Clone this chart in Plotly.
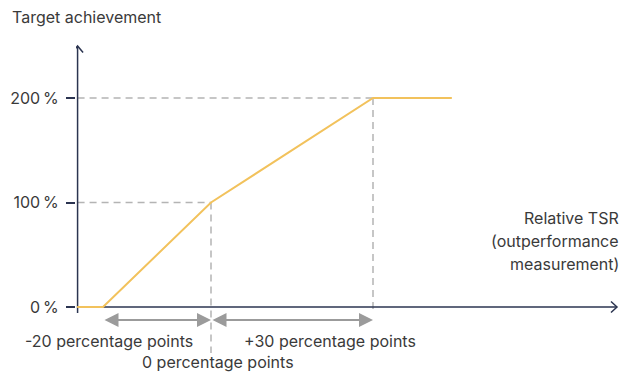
import plotly.graph_objects as go

# ---- data ----
curve_x = [-24.8, -20, 0, 30, 44.6]          # relative TSR (percentage points)
curve_y = [0, 0, 100, 200, 200]              # target achievement (%)
y_ticks = [0, 100, 200]
y_tick_labels = ["0\u2009%", "100\u2009%", "200\u2009%"]
range_labels = ["-20 percentage points", "+30 percentage points", "0 percentage points"]

# ---- geometry helpers (pixel scale of the reference) ----
W, H = 623, 375
ML, MT = 76, 40
X0_PX, PX_X = 211, 5.4
Y0_PX, PX_Y = 307, 1.045
xr = [(ML - X0_PX) / PX_X, (W - X0_PX) / PX_X]
yr = [(Y0_PX - H) / PX_Y, (Y0_PX - MT) / PX_Y]
def dx(px): return px / PX_X
def dy(px): return px / PX_Y
def pxp(px): return (px - ML) / (W - ML)
def pyp(py): return (H - py) / (H - MT)

AX = "#2b3450"
GRID = "#b4b4b4"
ARR = "#9b9b9b"
TXT = "#3a3a3a"
FONT = "Inter"
FS = 16

x_axis_pos = curve_x[0] + dx(0.5)
x_end = (617 - X0_PX) / PX_X
y_top = (Y0_PX - 46) / PX_Y

fig = go.Figure()
fig.add_trace(go.Scatter(x=curve_x, y=curve_y, mode="lines",
                         line=dict(color="#f2c25c", width=2), hoverinfo="skip",
                         showlegend=False))

shapes = []
dash = "7px,5px"
# guide lines
shapes.append(dict(type="line", x0=x_axis_pos, x1=curve_x[3], y0=curve_y[3], y1=curve_y[3],
                   line=dict(color=GRID, width=1.5, dash=dash), layer="below"))
shapes.append(dict(type="line", x0=x_axis_pos, x1=curve_x[2], y0=curve_y[2], y1=curve_y[2],
                   line=dict(color=GRID, width=1.5, dash=dash), layer="below"))
shapes.append(dict(type="line", x0=curve_x[2], x1=curve_x[2], y0=curve_y[2], y1=-dy(46),
                   line=dict(color=GRID, width=1.5, dash=dash), layer="below"))
shapes.append(dict(type="line", x0=curve_x[3], x1=curve_x[3], y0=curve_y[3], y1=-dy(6),
                   line=dict(color=GRID, width=1.5, dash=dash), layer="below"))
# axes
shapes.append(dict(type="line", x0=x_axis_pos, x1=x_end, y0=0, y1=0,
                   line=dict(color=AX, width=1.5), layer="below"))
shapes.append(dict(type="line", x0=x_axis_pos, x1=x_axis_pos, y0=-dy(6), y1=y_top,
                   line=dict(color=AX, width=1.5), layer="below"))
# arrow chevrons
shapes.append(dict(type="path",
                   path=f"M{x_end-dx(6)},{dy(5.5)} L{x_end},0 L{x_end-dx(6)},{-dy(5.5)}",
                   line=dict(color=AX, width=1.5), layer="below"))
shapes.append(dict(type="path",
                   path=f"M{x_axis_pos-dx(5.5)},{y_top-dy(6.5)} L{x_axis_pos},{y_top} L{x_axis_pos+dx(5.5)},{y_top-dy(6.5)}",
                   line=dict(color=AX, width=1.5), layer="below"))

annotations = []
arr_y = -dy(13)
for a, b in [(curve_x[1], curve_x[2]), (curve_x[2], curve_x[3])]:
    annotations.append(dict(x=b, y=arr_y, ax=a, ay=arr_y, xref="x", yref="y", axref="x", ayref="y",
                            text="", showarrow=True, arrowhead=2, startarrowhead=2, arrowside="end+start",
                            arrowwidth=2, arrowsize=1.4, startarrowsize=1.4, arrowcolor=ARR,
                            standoff=0, startstandoff=0))

def txt(t, px, py, xanchor="center"):
    annotations.append(dict(text=t, x=pxp(px), y=pyp(py), xref="paper", yref="paper",
                            showarrow=False, xanchor=xanchor, yanchor="middle",
                            font=dict(family=FONT, size=FS, color=TXT)))

txt("Target achievement", 10, 17, "left")
txt(range_labels[0], 109, 341)
txt(range_labels[1], 330, 341)
txt(range_labels[2], 218, 362)
txt("Relative TSR", 621, 218, "right")
txt("(outperformance", 621, 241, "right")
txt("measurement)", 621, 264, "right")

fig.update_layout(
    width=W, height=H, margin=dict(l=ML, r=0, t=MT, b=0),
    plot_bgcolor="white", paper_bgcolor="white",
    shapes=shapes, annotations=annotations, showlegend=False,
    xaxis=dict(range=xr, visible=False, fixedrange=True),
    yaxis=dict(range=yr, showgrid=False, zeroline=False, showline=False,
               tickvals=y_ticks, ticktext=y_tick_labels, ticks="outside", ticklen=9,
               tickwidth=1.5, tickcolor=AX, ticklabelstandoff=4,
               tickfont=dict(family=FONT, size=FS, color=TXT), fixedrange=True),
)
fig.write_html("out.html")
